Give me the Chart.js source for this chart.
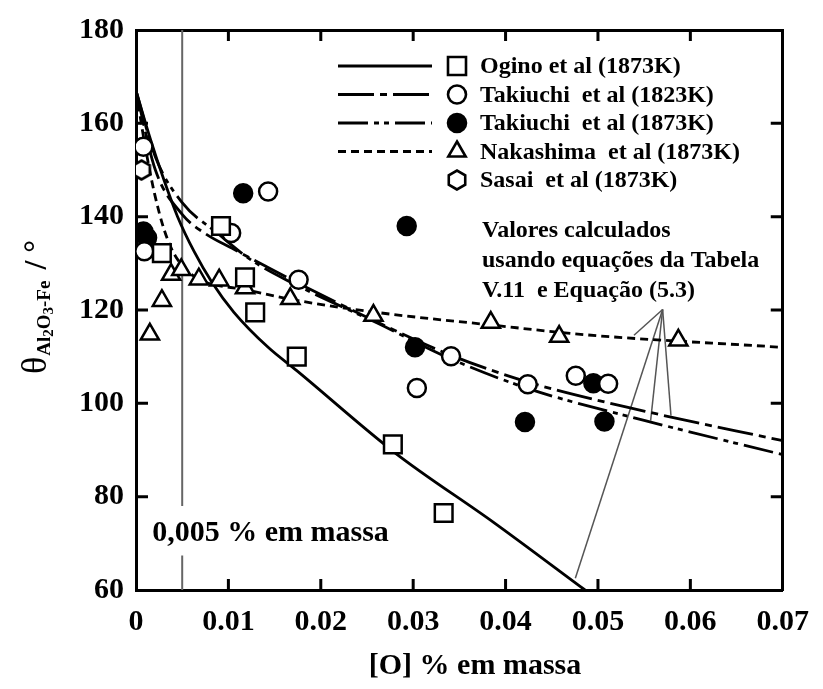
<!DOCTYPE html>
<html>
<head>
<meta charset="utf-8">
<script src="https://cdn.jsdelivr.net/npm/chart.js@4.4.1/dist/chart.umd.min.js"></script>
<style>
  html, body { margin: 0; padding: 0; background: #fff; }
</style>
</head>
<body>
<canvas id="contactAngle" width="823" height="689"></canvas>
<script>
// measured points: [O] (% em massa) and contact angle (degrees)
const oginoO = [0.0028, 0.0092, 0.0118, 0.0129, 0.0174, 0.0278, 0.0333];
const oginoTheta = [132.2, 138, 127, 119.5, 110, 91.2, 76.5];

const tak1823O = [0.0008, 0.0009, 0.0103, 0.0143, 0.0176, 0.0304, 0.0341, 0.0424, 0.0476, 0.0511];
const tak1823Theta = [155, 132.6, 136.5, 145.4, 126.5, 103.3, 110.1, 104.1, 105.9, 104.2];

const tak1873O = [0.0008, 0.0012, 0.0116, 0.0293, 0.0302, 0.0421, 0.0495, 0.0507];
const tak1873Theta = [136.8, 135.5, 145, 138, 112, 96, 104.3, 96.1];

const nakaO = [0.0015, 0.0028, 0.0038, 0.0049, 0.0068, 0.009, 0.0118, 0.0167, 0.0257, 0.0384, 0.0458, 0.0587];
const nakaTheta = [114.8, 122, 127.6, 128.6, 126.6, 126.4, 124.7, 122.4, 118.8, 117.3, 114.3, 113.5];

const sasaiO = [0.0006];
const sasaiTheta = [150];

// calculated curves
const oginoFitO = [0, 0.0015, 0.003, 0.0045, 0.0063, 0.0082, 0.0106, 0.0143, 0.0174, 0.0281, 0.0387, 0.0486];
const oginoFitTheta = [167, 157, 148, 140, 132.5, 126, 119.5, 112, 107, 89.3, 74.5, 60];

const tak1823FitO = [0, 0.0021, 0.005, 0.0074, 0.0106, 0.0141, 0.0173, 0.026, 0.0341, 0.0427, 0.0551, 0.07];
const tak1823FitTheta = [167, 150, 140.5, 136.5, 133, 129.3, 126, 117.5, 110.3, 104.4, 98.3, 92];

const tak1873FitO = [0, 0.0021, 0.005, 0.0088, 0.0124, 0.0167, 0.026, 0.0341, 0.0427, 0.0551, 0.07];
const tak1873FitTheta = [167, 152.8, 143, 136.5, 130.8, 126, 117.3, 109.5, 103, 96.3, 89];

const nakaFitO = [0, 0.001, 0.002, 0.003, 0.004, 0.0055, 0.0075, 0.0117, 0.0167, 0.026, 0.0384, 0.0486, 0.07];
const nakaFitTheta = [167, 155, 145, 137.5, 132.5, 128.5, 126, 124.4, 122.3, 119.5, 116.8, 114.7, 112];

// leader lines from the note to the curves
const noteApex = { x: 0.0570, y: 120.1 };
const noteEndO = [0.0539, 0.0557, 0.0579, 0.04755];
const noteEndTheta = [114.6, 96.3, 97.4, 62.5];

const xTickLabels = ['0', '0.01', '0.02', '0.03', '0.04', '0.05', '0.06', '0.07'];
const yTickLabels = ['60', '80', '100', '120', '140', '160', '180'];

const limitO = 0.005;
const limitGap = [78, 67.4];

const seriesNames = [
  'Ogino et al (1873K)',
  'Takiuchi  et al (1823K)',
  'Takiuchi  et al (1873K)',
  'Nakashima  et al (1873K)',
  'Sasai  et al (1873K)'
];
const noteLines = ['Valores calculados', 'usando equações da Tabela', 'V.11  e Equação (5.3)'];

const FONT = "'Liberation Serif', 'Times New Roman', serif";
const dashOgino = [];
const dash1823 = [36, 6, 7, 6];
const dash1873 = [30, 6, 5, 5, 5, 6];
const dashNaka = [8, 5];

const pts = (xs, ys) => xs.map((x, i) => ({ x: x, y: ys[i] }));

// hexagon marker for Sasai
function hexCanvas() {
  const c = document.createElement('canvas');
  c.width = 24; c.height = 24;
  const g = c.getContext('2d');
  g.beginPath();
  for (let k = 0; k < 6; k++) {
    const a = Math.PI / 2 + k * Math.PI / 3;
    const px = 12 + 9.5 * Math.cos(a), py = 12 + 9.5 * Math.sin(a);
    if (k === 0) g.moveTo(px, py); else g.lineTo(px, py);
  }
  g.closePath();
  g.fillStyle = '#fff'; g.fill();
  g.lineWidth = 2.6; g.strokeStyle = '#000'; g.stroke();
  return c;
}
const hexMark = hexCanvas();

function marker(label, data, style, radius, fill) {
  return {
    label: label,
    data: data,
    showLine: false,
    pointStyle: style,
    pointRadius: radius,
    pointBorderWidth: 2.5,
    pointBorderColor: '#000',
    pointBackgroundColor: fill
  };
}

function curve(label, data, dash) {
  return {
    label: label,
    data: data,
    showLine: true,
    pointRadius: 0,
    borderColor: '#000',
    borderWidth: 2.8,
    borderDash: dash,
    cubicInterpolationMode: 'monotone',
    fill: false
  };
}

const noteSets = noteEndO.map((o, i) => ({
  label: 'note' + i,
  data: [noteApex, { x: o, y: noteEndTheta[i] }],
  showLine: true,
  pointRadius: 0,
  borderColor: '#555',
  borderWidth: 1.5,
  tension: 0
}));

function drawLegendMark(ctx, kind, x, y) {
  ctx.save();
  ctx.lineWidth = 2.6;
  ctx.strokeStyle = '#000';
  ctx.fillStyle = '#fff';
  ctx.beginPath();
  if (kind === 0) {
    ctx.rect(x - 9, y - 9, 18, 18);
  } else if (kind === 1 || kind === 2) {
    ctx.arc(x, y, 9, 0, Math.PI * 2);
    if (kind === 2) ctx.fillStyle = '#000';
  } else if (kind === 3) {
    const r = 10;
    ctx.moveTo(x, y - r);
    ctx.lineTo(x + r * 0.866, y + r / 2);
    ctx.lineTo(x - r * 0.866, y + r / 2);
    ctx.closePath();
  }
  if (kind === 4) {
    ctx.drawImage(hexMark, x - 12, y - 12);
  } else {
    ctx.fill();
    ctx.stroke();
  }
  ctx.restore();
}

const decor = {
  id: 'decor',
  beforeDatasetsDraw(chart) {
    const { ctx, chartArea: a, scales: { x, y } } = chart;
    const px = x.getPixelForValue(limitO);
    ctx.save();
    ctx.strokeStyle = '#666';
    ctx.lineWidth = 2;
    ctx.beginPath();
    ctx.moveTo(px, a.top);
    ctx.lineTo(px, y.getPixelForValue(limitGap[0]));
    ctx.moveTo(px, y.getPixelForValue(limitGap[1]));
    ctx.lineTo(px, a.bottom);
    ctx.stroke();
    ctx.restore();
  },
  afterDraw(chart) {
    const { ctx, chartArea: a, scales: { x, y } } = chart;
    ctx.save();

    // inward tick marks on all four sides
    ctx.strokeStyle = '#000';
    ctx.lineWidth = 3;
    ctx.beginPath();
    x.ticks.slice(1, -1).forEach(t => {
      const px = x.getPixelForValue(t.value);
      ctx.moveTo(px, a.bottom); ctx.lineTo(px, a.bottom - 11);
      ctx.moveTo(px, a.top); ctx.lineTo(px, a.top + 11);
    });
    y.ticks.slice(1, -1).forEach(t => {
      const py = y.getPixelForValue(t.value);
      ctx.moveTo(a.left, py); ctx.lineTo(a.left + 12, py);
      ctx.moveTo(a.right, py); ctx.lineTo(a.right - 12, py);
    });
    ctx.stroke();

    // legend
    const dashes = [dashOgino, dash1823, dash1873, dashNaka];
    ctx.textBaseline = 'middle';
    ctx.textAlign = 'left';
    ctx.font = 'bold 24px ' + FONT;
    seriesNames.forEach((name, i) => {
      const ly = a.top + 36 + i * 28.5;
      if (i < 4) {
        ctx.save();
        ctx.setLineDash(dashes[i]);
        ctx.lineWidth = 2.8;
        ctx.beginPath();
        ctx.moveTo(a.left + 202, ly);
        ctx.lineTo(a.left + 296, ly);
        ctx.stroke();
        ctx.restore();
      }
      drawLegendMark(ctx, i, a.left + 321, ly);
      ctx.fillStyle = '#000';
      ctx.fillText(name, a.left + 344, ly + 1);
    });

    // note about calculated curves
    noteLines.forEach((s, i) => {
      ctx.fillText(s, a.left + 346, a.top + 201 + i * 30);
    });

    // 0,005 label
    ctx.font = 'bold 30px ' + FONT;
    ctx.fillText('0,005 % em massa', x.getPixelForValue(limitO) - 30, y.getPixelForValue(72.1));

    // x axis title
    ctx.textAlign = 'center';
    ctx.fillText('[O] % em massa', 475, 666);

    // y axis title, rotated, with subscript
    ctx.translate(46, 374);
    ctx.rotate(-Math.PI / 2);
    ctx.textAlign = 'left';
    ctx.textBaseline = 'alphabetic';
    let cx = 0;
    ctx.font = '36px ' + FONT;
    ctx.fillText('θ', cx, 0);
    cx += ctx.measureText('θ').width + 1;
    ['Al', '2', 'O', '3', '-Fe'].forEach((s, k) => {
      const dy = (k === 1 || k === 3) ? 3 : 0;
      ctx.font = (dy ? 'bold 15px ' : 'bold 19px ') + FONT;
      ctx.fillText(s, cx, 4 + dy);
      cx += ctx.measureText(s).width;
    });
    ctx.font = 'bold 32px ' + FONT;
    ctx.fillText(' / °', cx + 3, 0);

    ctx.restore();
  }
};

const tickFont = { family: FONT, size: 30, weight: 'bold' };

new Chart(document.getElementById('contactAngle'), {
  type: 'scatter',
  data: {
    datasets: [
      marker(seriesNames[0], pts(oginoO, oginoTheta), 'rect', 12.5, '#fff'),
      marker(seriesNames[1], pts(tak1823O, tak1823Theta), 'circle', 9, '#fff'),
      marker(seriesNames[2], pts(tak1873O, tak1873Theta), 'circle', 9, '#000'),
      marker(seriesNames[3], pts(nakaO, nakaTheta), 'triangle', 10.5, '#fff'),
      marker(seriesNames[4], pts(sasaiO, sasaiTheta), hexMark, 10, '#fff'),
      curve('Ogino calc', pts(oginoFitO, oginoFitTheta), dashOgino),
      curve('Takiuchi 1823K calc', pts(tak1823FitO, tak1823FitTheta), dash1823),
      curve('Takiuchi 1873K calc', pts(tak1873FitO, tak1873FitTheta), dash1873),
      curve('Nakashima calc', pts(nakaFitO, nakaFitTheta), dashNaka),
      ...noteSets
    ]
  },
  options: {
    responsive: false,
    animation: false,
    events: [],
    layout: { padding: { top: 25, right: 29, left: 0, bottom: 0 } },
    plugins: { legend: { display: false }, tooltip: { enabled: false } },
    scales: {
      x: {
        type: 'linear',
        position: 'bottom',
        min: 0,
        max: 0.07,
        ticks: {
          stepSize: 0.01,
          autoSkip: false,
          maxRotation: 0,
          padding: 14,
          color: '#000',
          font: tickFont,
          callback: (v, i) => xTickLabels[i]
        },
        grid: { display: false, drawTicks: false },
        border: { display: true, color: '#000', width: 3 },
        afterFit: s => { s.height = 99; }
      },
      y: {
        type: 'linear',
        position: 'left',
        min: 60,
        max: 180,
        ticks: {
          stepSize: 20,
          padding: 12,
          color: '#000',
          font: tickFont,
          callback: (v, i) => yTickLabels[i]
        },
        grid: { display: false, drawTicks: false },
        border: { display: true, color: '#000', width: 3 },
        afterFit: s => { s.width = 136; }
      },
      x2: {
        type: 'linear',
        position: 'top',
        min: 0,
        max: 0.07,
        ticks: { display: false },
        grid: { display: false, drawTicks: false },
        border: { display: true, color: '#000', width: 3 },
        afterFit: s => { s.height = 0; }
      },
      y2: {
        type: 'linear',
        position: 'right',
        min: 60,
        max: 180,
        ticks: { display: false },
        grid: { display: false, drawTicks: false },
        border: { display: true, color: '#000', width: 3 },
        afterFit: s => { s.width = 0; }
      }
    }
  },
  plugins: [decor]
});
</script>
</body>
</html>
